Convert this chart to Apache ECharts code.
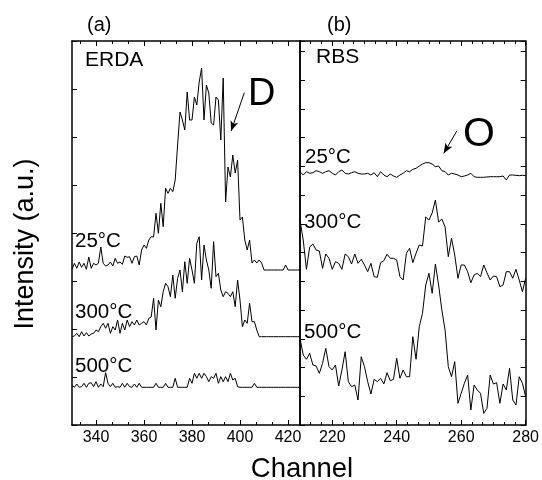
<!DOCTYPE html>
<html>
<head>
<meta charset="utf-8">
<script src="https://cdn.jsdelivr.net/npm/echarts@6/dist/echarts.min.js"></script>
<style>
html,body{margin:0;padding:0;background:#fff;}
#chart{width:542px;height:480px;}
</style>
</head>
<body>
<div id="chart"></div>
<script>
// ERDA panel (a): channels and intensities (a.u.)
var erdaCh = [330,331,332,333,334,335,336,337,338,339,340,341,342,343,344,345,346,347,348,349,350,351,352,353,354,355,356,357,358,359,360,361,362,363,364,365,366,367,368,369,370,371,372,373,374,375,376,377,378,379,380,381,382,383,384,385,386,387,388,389,390,391,392,393,394,395,396,397,398,399,400,401,402,403,404,405,406,407,408,409,410,411,412,413,414,415,416,417,418,419,420,421,422,423,424,425];
var erda25 = [155.7,161.7,156.7,163,157.7,161.7,155.7,168,156.7,161.7,160,161.7,178,161.7,159,160,163,159,166.7,161.7,163,160.7,169,167.7,168.3,161.7,168.3,169,160,175,180,176.7,185,188.3,188,211.7,191.7,221.7,198.3,236.7,231.7,236.7,233.3,245,280,313,305,295,333,305,305,328,320,343,357,305,340,332,302,300,328,325,285,347,223,258,248,270,252,265,205,208,185,175,185,162,165,162,165,162,155,155,155,155,155,155,155,155,155,160,155,155,155,155,155,155];
var erda300 = [88.3,89,91.7,88.3,93.3,89,92.3,89,91,91.7,95,93.3,98.3,101.7,96.7,101.7,91.7,98.3,95,105,91.7,101.7,95,105,98.3,103.3,100,105,100,101.7,103.3,100,106.7,108,126.7,95,125,118.3,133.3,141.7,138.3,128.3,150,126.7,146.7,155,133.3,163.3,141.7,166.7,155,141.7,181.7,188.3,145,180,165,155,136.7,183.3,148.3,151.7,135,128.3,133.3,131.7,128.3,133.3,118.3,145,125,98.3,105,101.7,121.7,103.3,103.3,95,88.3,88.3,88.3,88.3,88.3,88.3,88.3,88.3,88.3,88.3,88.3,88.3,88.3,88.3,88.3,88.3,88.3,88.3];
var erda500 = [40,37.7,41,37.7,38.3,41.7,37.7,41.7,42.3,38.3,43.3,37.7,41,38.3,52.3,41.7,38.3,41.7,37.7,38.3,37.7,41.7,37.7,41.7,38.3,37.7,41,37.7,41.7,37.7,37.7,37.7,37.7,37.7,37.7,41.7,37.7,37.7,37.7,41.7,37.7,37.7,37.7,46.7,37.7,37.7,37.7,37.7,37.7,46.7,41.7,51.7,46.7,51.7,46.7,51.7,48.3,43.3,48.3,46.7,51.7,41.7,48.3,43.3,48.3,43.3,51.7,45,46.7,38.3,37.7,37.7,37.7,37.7,37.7,37.7,41.7,37.7,37.7,37.7,37.7,37.7,37.7,37.7,37.7,37.7,37.7,37.7,37.7,37.7,37.7,37.7,37.7,37.7,37.7,37.7];

// RBS panel (b)
var rbsCh = [210,211,212,213,214,215,216,217,218,219,220,221,222,223,224,225,226,227,228,229,230,231,232,233,234,235,236,237,238,239,240,241,242,243,244,245,246,247,248,249,250,251,252,253,254,255,256,257,258,259,260,261,262,263,264,265,266,267,268,269,270,271,272,273,274,275,276,277,278,279,280];
var rbs25 = [253.3,250,253.3,251.7,252.3,254.3,253.3,251.7,253.3,254.3,251.7,250,253.3,255,251.7,251,252.3,253.3,251.7,251,251,251.7,250,252.3,248.3,253.3,250,248.3,251,249,247.7,250,251.7,254.3,253.3,255.7,256.7,259,261,262.3,262.3,261,258.3,259,254.3,253.3,250,251.7,251,250,248.3,249,250,251.7,248.3,247.7,247.7,247.7,248,248.3,248.3,248.3,248.3,249,245,250,250,249.7,249.3,249.7,249.3];
var rbs300 = [205,185,155.7,178,181,175,174,156.7,171,166.7,155.7,163.3,161.7,155.7,171,168.3,161,171,161.7,165.7,160,153.3,161.7,148.3,147.7,162.3,164.3,170.7,166.7,166.7,165,148.3,145,171.7,176.7,162.3,171.7,180,179,208,205,212,225,203,206,198.3,168.3,186.7,170,146.7,160,160,153.3,142.3,150,151.7,148.3,160,152.3,145,149,148.3,138.3,140,153.3,153.3,146.7,155.7,145,133.3,146.7];
var rbs500 = [86.7,70,65.7,71.7,60,59,51.7,61.7,76.7,58.3,55,60,39,55,73.3,43.3,38.3,40,25,68.3,58.3,43.3,31,45.7,43.3,46.7,41,52.3,44.3,45.7,66.7,46.7,55,48.3,48.3,88.3,65.7,98.3,111.7,140,151.7,131.7,161,140,115,95,58.3,48.3,63.3,21.7,31.7,41.7,50,15,40,35,31.7,11.7,16.7,50,41,42.3,21.7,41,35,56.7,25,20,48.3,41.7,28.3];

// tick labels / tick positions
var erdaTicks = [340,360,380,400,420];
var erdaMinor = [333.33,346.67,353.33,366.67,373.33,386.67,393.33,406.67,413.33];
var rbsTicks = [220,240,260,280];
var rbsMinor = [213.33,216.67,223.33,226.67,230,233.33,236.67,243.33,246.67,250,253.33,256.67,263.33,266.67,270,273.33,276.67];

function pairs(xs, ys){ var o=[]; for(var i=0;i<xs.length;i++){o.push([xs[i],ys[i]]);} return o; }

var FONT = '"Liberation Sans", Arial, Helvetica, sans-serif';
var lineAx = {show:true, lineStyle:{color:'#000', width:1.5}};

function xAx(grid, pos, min, max, ticks, len, showLine, labels){
  return {
    type:'value', gridIndex:grid, position:pos, min:min, max:max,
    axisLine: showLine ? lineAx : {show:false},
    axisTick:{show:true, inside:true, length:len, customValues:ticks, lineStyle:{color:'#000', width:1}},
    axisLabel: labels ? {show:true, customValues:ticks, color:'#000', fontSize:16, fontFamily:FONT, margin:5} : {show:false},
    splitLine:{show:false}, minorTick:{show:false}
  };
}
function yAx(grid, pos, interval, showTicks){
  return {
    type:'value', gridIndex:grid, position:pos, min:0, max:384, interval:interval,
    axisLine: lineAx,
    axisTick:{show:showTicks, inside:true, length:5, lineStyle:{color:'#000', width:1}},
    axisLabel:{show:false}, splitLine:{show:false}
  };
}

var blackLine = {color:'#000', width:1};
function ser(xi, yi, xs, ys, mark){
  var s = {type:'line', xAxisIndex:xi, yAxisIndex:yi, data:pairs(xs, ys), showSymbol:false, symbol:'none',
    lineStyle:blackLine, itemStyle:{color:'#000'}, animation:false, silent:true, clip:true};
  if(mark){
    s.markLine = {silent:true, animation:false, symbol:['none','arrow'], symbolSize:[6,10],
      label:{show:false}, lineStyle:{color:'#000', width:1, type:'solid'},
      data:[[{coord:mark[0]},{coord:mark[1]}]]};
  }
  return s;
}

function txt(t, x, y, size, align){
  return {type:'text', x:x, y:y, silent:true,
    style:{text:t, font:size+'px '+FONT, fill:'#000', align:align||'left', verticalAlign:'middle', textAlign:align||'left', textVerticalAlign:'middle'}};
}

var chart = echarts.init(document.getElementById('chart'), null, {renderer:'canvas'});
chart.setOption({
  backgroundColor:'#fff',
  animation:false,
  grid:[
    {left:72, top:41, width:228, height:384},
    {left:300, top:41, width:228, height:384}
  ],
  xAxis:[
    xAx(0,'bottom',330,425,erdaTicks,5,true,true),
    xAx(0,'bottom',330,425,erdaMinor,3,false,false),
    xAx(0,'top',330,425,erdaTicks,5,true,false),
    xAx(0,'top',330,425,erdaMinor,3,false,false),
    xAx(1,'bottom',210,280,rbsTicks,5,true,true),
    xAx(1,'bottom',210,280,rbsMinor,3,false,false),
    xAx(1,'top',210,280,rbsTicks,5,true,false),
    xAx(1,'top',210,280,rbsMinor,3,false,false)
  ],
  yAxis:[
    yAx(0,'left',48,true),
    yAx(0,'right',48,false),
    yAx(1,'left',28.75,true),
    yAx(1,'right',28.75,true)
  ],
  series:[
    ser(0,0,erdaCh,erda25,[[401.8,332.3],[396.3,294]]),
    ser(0,0,erdaCh,erda300),
    ser(0,0,erdaCh,erda500),
    ser(4,2,rbsCh,rbs25,[[258.7,294.3],[254.6,271.7]]),
    ser(4,2,rbsCh,rbs300),
    ser(4,2,rbsCh,rbs500)
  ],
  graphic:[
    txt('(a)',87,25,20),
    txt('(b)',327,25,20),
    txt('ERDA',85,60,21),
    txt('RBS',316,57,21),
    txt('D',248,95,38),
    txt('O',463,135,41),
    txt('25°C',75,241.5,20.5),
    txt('300°C',75,312,20.5),
    txt('500°C',75,366.5,20.5),
    txt('25°C',305,157,20.5),
    txt('300°C',304,222.5,20.5),
    txt('500°C',304,332,20.5),
    txt('Channel',302,469,27.5,'center'),
    {type:'text', x:26, y:244, rotation:Math.PI/2, silent:true,
     style:{text:'Intensity (a.u.)', font:'27px '+FONT, fill:'#000', align:'center', verticalAlign:'middle', textAlign:'center', textVerticalAlign:'middle'}}
  ]
});
</script>
</body>
</html>
